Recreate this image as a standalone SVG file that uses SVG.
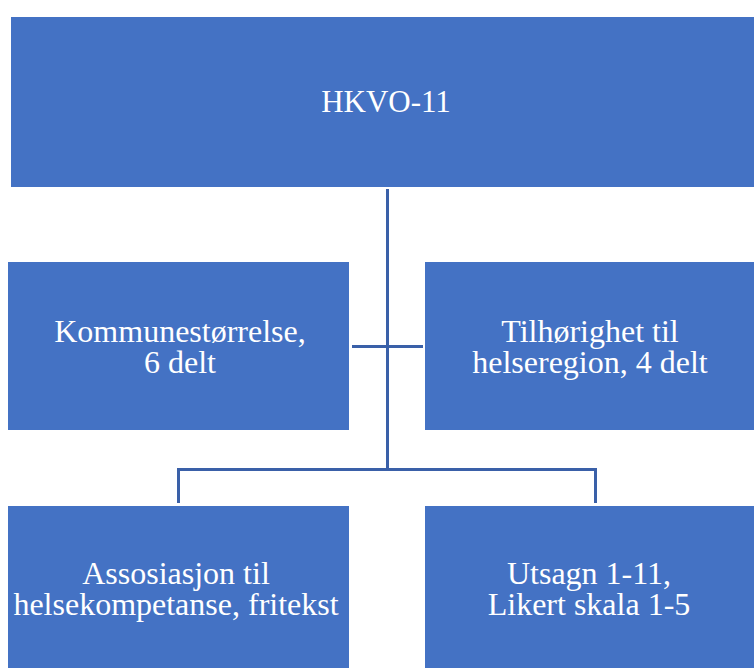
<svg xmlns="http://www.w3.org/2000/svg" width="754" height="668" viewBox="0 0 754 668">
<style>
.box{fill:#4472C4;}
.t{font-family:"Liberation Serif","Times New Roman",serif;font-size:32px;fill:#FFFFFF;text-anchor:middle;}
.c{fill:none;stroke:#3A60A8;stroke-width:3;}
</style>
<rect width="754" height="668" fill="#FFFFFF"/>
<g id="connectors">
<path class="c" d="M387.5 189 V469"/>
<path class="c" d="M352 346.5 H423"/>
<path class="c" d="M178.5 503 V469.5 H595.5 V503"/>
</g>
<g id="n-hkvo"><rect class="box" x="11" y="17" width="743" height="170"/><text class="t" x="386" y="112" style="font-size:31px">HKVO-11</text></g>
<g id="n-kommune"><rect class="box" x="8" y="262" width="341" height="168"/><text class="t" x="180" y="342">Kommunestørrelse,</text><text class="t" x="180" y="373">6 delt</text></g>
<g id="n-region"><rect class="box" x="425" y="262" width="329" height="168"/><text class="t" x="590" y="342">Tilhørighet til</text><text class="t" x="590" y="373">helseregion, 4 delt</text></g>
<g id="n-assos"><rect class="box" x="8" y="506" width="341" height="162"/><text class="t" x="176" y="584">Assosiasjon til</text><text class="t" x="176" y="615">helsekompetanse, fritekst</text></g>
<g id="n-utsagn"><rect class="box" x="425" y="506" width="329" height="162"/><text class="t" x="589" y="584">Utsagn 1-11,</text><text class="t" x="589" y="615">Likert skala 1-5</text></g>
</svg>
